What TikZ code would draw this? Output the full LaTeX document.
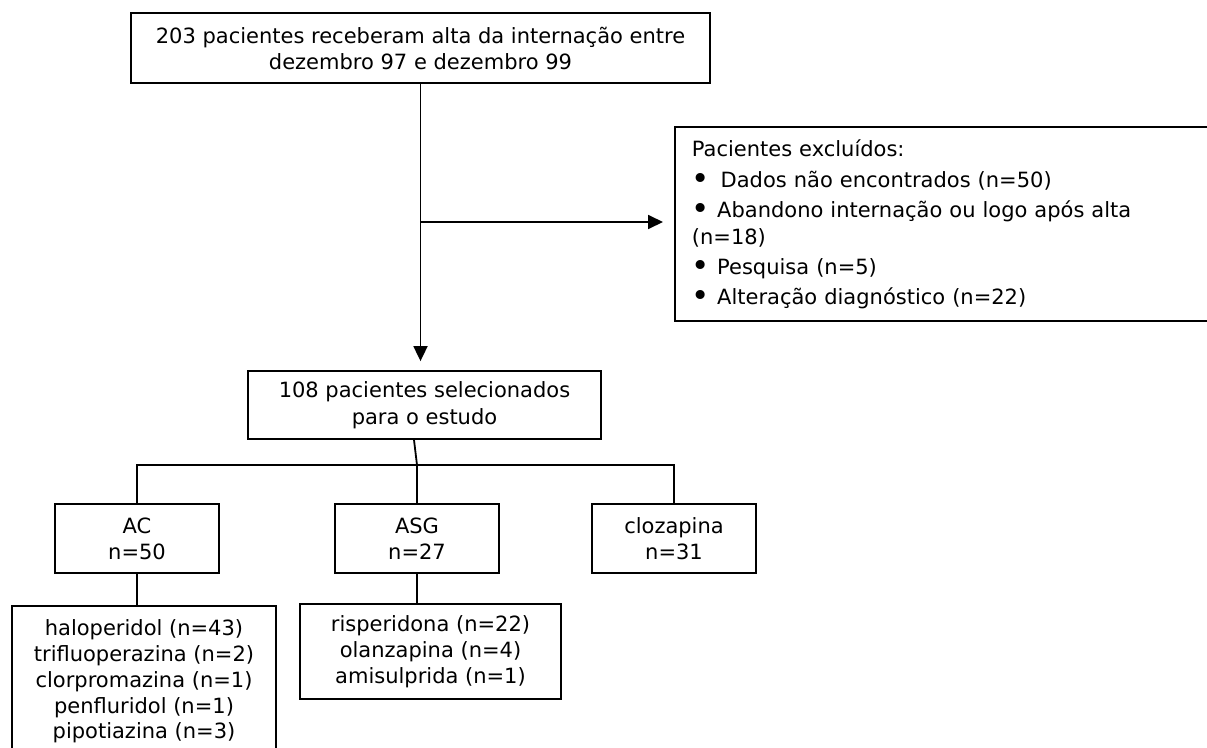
\documentclass[tikz,border=0pt]{standalone}
\usepackage{fontspec}
\setmainfont{DejaVu Sans}
\usetikzlibrary{arrows.meta}
\newcommand{\bul}{{\fontsize{31}{26}\selectfont\raisebox{-2.6pt}{•}}}
\begin{document}
\begin{tikzpicture}[x=1pt,y=-1pt,
  box/.style={draw=black,line width=1.8pt,rectangle,inner sep=0pt,align=center,
    font=\fontsize{21}{26}\selectfont},
  conn/.style={line width=1.8pt,black},
  arr/.style={conn,-{Triangle[length=15pt,width=14pt]}}]
\useasboundingbox (0,0) rectangle (1207,747);
\node[box,minimum width=579pt,minimum height=70pt] (top) at (420.5,48)
  {203 pacientes receberam alta da internação entre\\dezembro 97 e dezembro 99};
\node[box,anchor=north west,minimum width=550pt,minimum height=194pt,
  align=left,text width=520pt,inner xsep=17pt,
  font=\fontsize{21}{27}\selectfont] (excl) at (674,126)
  {Pacientes excluídos:\\[4pt]
   \bul~\,Dados não encontrados (n=50)\\[3pt]
   \bul\ Abandono internação ou logo após alta\\
   (n=18)\\[3pt]
   \bul\ Pesquisa (n=5)\\[3pt]
   \bul\ Alteração diagnóstico (n=22)};
\node[box,minimum width=353pt,minimum height=68pt,
  font=\fontsize{21}{27}\selectfont] (mid) at (424.5,405)
  {108 pacientes selecionados\\para o estudo};
\node[box,minimum width=164pt,minimum height=69pt] (ac) at (137,538.5) {AC\\n=50};
\node[box,minimum width=164pt,minimum height=69pt] (asg) at (417,538.5) {ASG\\n=27};
\node[box,minimum width=164pt,minimum height=69pt] (cloz) at (674,538.5) {clozapina\\n=31};
\node[box,minimum width=264pt,minimum height=151pt,
  font=\fontsize{21}{25.8}\selectfont] (aclist) at (144,681.5)
  {haloperidol (n=43)\\trifluoperazina (n=2)\\clorpromazina (n=1)\\penfluridol (n=1)\\pipotiazina (n=3)};
\node[box,minimum width=261pt,minimum height=95pt,
  font=\fontsize{21}{26}\selectfont] (asglist) at (430.5,651.5)
  {risperidona (n=22)\\olanzapina (n=4)\\amisulprida (n=1)};
% connectors
\coordinate (b) at (420.5,222);
\coordinate (j) at (417,465);
\draw[arr,shorten >=9pt] (top.south) -- (top.south |- mid.north);
\draw[arr,shorten >=11pt] (b) -- (b -| excl.west);
\draw[conn] ([xshift=-10.5pt]mid.south) -- (j) -- (asg.north);
\draw[conn] (ac.north) |- (cloz.north |- j) -- (cloz.north);
\draw[conn] (ac.south) -- (ac.south |- aclist.north);
\draw[conn] (asg.south) -- (asg.south |- asglist.north);
\end{tikzpicture}
\end{document}
